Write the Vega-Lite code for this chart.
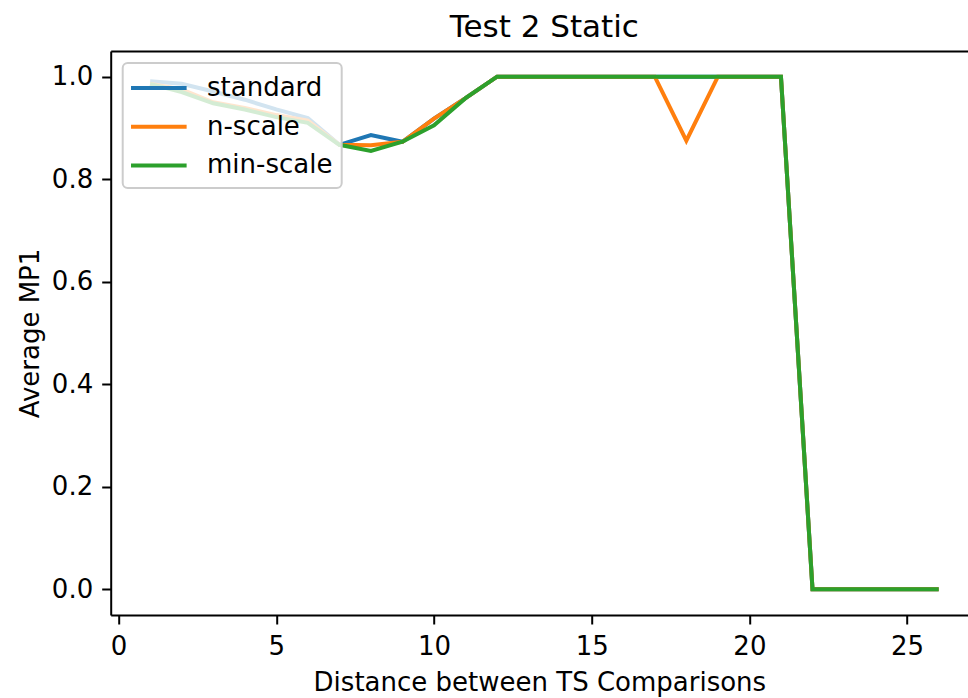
{
  "$schema": "https://vega.github.io/schema/vega-lite/v6.json",
  "width": 857.3,
  "height": 564,
  "autosize": {"type": "none"},
  "padding": {"left": 110.7, "top": 51, "right": 0, "bottom": 83},
  "background": "white",
  "title": {"text": "Test 2 Static", "fontSize": 31, "font": "DejaVu Sans", "fontWeight": "normal", "color": "black", "anchor": "middle", "dx": 5, "offset": 7},
  "config": {
    "view": {"stroke": null},
    "axis": {
      "labelFont": "DejaVu Sans", "labelFontSize": 26, "labelColor": "black",
      "titleFont": "DejaVu Sans", "titleFontSize": 26, "titleFontWeight": "normal", "titleColor": "black",
      "domainColor": "black", "domainWidth": 2, "tickColor": "black", "tickWidth": 2, "tickSize": 9,
      "labelPadding": 9, "grid": false
    },
    "legend": {
      "orient": "top-left", "offset": 12, "title": null,
      "labelFont": "DejaVu Sans", "labelFontSize": 26, "labelColor": "black",
      "symbolType": "M-1.2,0H2.8", "symbolSize": 773, "symbolStrokeWidth": 4,
      "labelOffset": 43.3, "rowPadding": 9.7, "padding": 9,
      "fillColor": "rgba(255,255,255,0.8)", "strokeColor": "#cccccc", "strokeWidth": 2, "cornerRadius": 5
    }
  },
  "data": {"values": [
    {"distance": 1, "mp1": 0.991, "method": "standard"},
    {"distance": 2, "mp1": 0.986, "method": "standard"},
    {"distance": 3, "mp1": 0.971, "method": "standard"},
    {"distance": 4, "mp1": 0.955, "method": "standard"},
    {"distance": 5, "mp1": 0.936, "method": "standard"},
    {"distance": 6, "mp1": 0.919, "method": "standard"},
    {"distance": 7, "mp1": 0.867, "method": "standard"},
    {"distance": 8, "mp1": 0.886, "method": "standard"},
    {"distance": 9, "mp1": 0.873, "method": "standard"},
    {"distance": 10, "mp1": 0.918, "method": "standard"},
    {"distance": 11, "mp1": 0.958, "method": "standard"},
    {"distance": 12, "mp1": 1.0, "method": "standard"},
    {"distance": 13, "mp1": 1.0, "method": "standard"},
    {"distance": 14, "mp1": 1.0, "method": "standard"},
    {"distance": 15, "mp1": 1.0, "method": "standard"},
    {"distance": 16, "mp1": 1.0, "method": "standard"},
    {"distance": 17, "mp1": 1.0, "method": "standard"},
    {"distance": 18, "mp1": 1.0, "method": "standard"},
    {"distance": 19, "mp1": 1.0, "method": "standard"},
    {"distance": 20, "mp1": 1.0, "method": "standard"},
    {"distance": 21, "mp1": 1.0, "method": "standard"},
    {"distance": 22, "mp1": 0.0, "method": "standard"},
    {"distance": 23, "mp1": 0.0, "method": "standard"},
    {"distance": 24, "mp1": 0.0, "method": "standard"},
    {"distance": 25, "mp1": 0.0, "method": "standard"},
    {"distance": 26, "mp1": 0.0, "method": "standard"},
    {"distance": 1, "mp1": 0.986, "method": "n-scale"},
    {"distance": 2, "mp1": 0.975, "method": "n-scale"},
    {"distance": 3, "mp1": 0.950, "method": "n-scale"},
    {"distance": 4, "mp1": 0.939, "method": "n-scale"},
    {"distance": 5, "mp1": 0.925, "method": "n-scale"},
    {"distance": 6, "mp1": 0.914, "method": "n-scale"},
    {"distance": 7, "mp1": 0.867, "method": "n-scale"},
    {"distance": 8, "mp1": 0.866, "method": "n-scale"},
    {"distance": 9, "mp1": 0.873, "method": "n-scale"},
    {"distance": 10, "mp1": 0.918, "method": "n-scale"},
    {"distance": 11, "mp1": 0.958, "method": "n-scale"},
    {"distance": 12, "mp1": 1.0, "method": "n-scale"},
    {"distance": 13, "mp1": 1.0, "method": "n-scale"},
    {"distance": 14, "mp1": 1.0, "method": "n-scale"},
    {"distance": 15, "mp1": 1.0, "method": "n-scale"},
    {"distance": 16, "mp1": 1.0, "method": "n-scale"},
    {"distance": 17, "mp1": 1.0, "method": "n-scale"},
    {"distance": 18, "mp1": 0.875, "method": "n-scale"},
    {"distance": 19, "mp1": 1.0, "method": "n-scale"},
    {"distance": 20, "mp1": 1.0, "method": "n-scale"},
    {"distance": 21, "mp1": 1.0, "method": "n-scale"},
    {"distance": 22, "mp1": 0.0, "method": "n-scale"},
    {"distance": 23, "mp1": 0.0, "method": "n-scale"},
    {"distance": 24, "mp1": 0.0, "method": "n-scale"},
    {"distance": 25, "mp1": 0.0, "method": "n-scale"},
    {"distance": 26, "mp1": 0.0, "method": "n-scale"},
    {"distance": 1, "mp1": 0.986, "method": "min-scale"},
    {"distance": 2, "mp1": 0.970, "method": "min-scale"},
    {"distance": 3, "mp1": 0.948, "method": "min-scale"},
    {"distance": 4, "mp1": 0.936, "method": "min-scale"},
    {"distance": 5, "mp1": 0.921, "method": "min-scale"},
    {"distance": 6, "mp1": 0.910, "method": "min-scale"},
    {"distance": 7, "mp1": 0.867, "method": "min-scale"},
    {"distance": 8, "mp1": 0.855, "method": "min-scale"},
    {"distance": 9, "mp1": 0.873, "method": "min-scale"},
    {"distance": 10, "mp1": 0.905, "method": "min-scale"},
    {"distance": 11, "mp1": 0.958, "method": "min-scale"},
    {"distance": 12, "mp1": 1.0, "method": "min-scale"},
    {"distance": 13, "mp1": 1.0, "method": "min-scale"},
    {"distance": 14, "mp1": 1.0, "method": "min-scale"},
    {"distance": 15, "mp1": 1.0, "method": "min-scale"},
    {"distance": 16, "mp1": 1.0, "method": "min-scale"},
    {"distance": 17, "mp1": 1.0, "method": "min-scale"},
    {"distance": 18, "mp1": 1.0, "method": "min-scale"},
    {"distance": 19, "mp1": 1.0, "method": "min-scale"},
    {"distance": 20, "mp1": 1.0, "method": "min-scale"},
    {"distance": 21, "mp1": 1.0, "method": "min-scale"},
    {"distance": 22, "mp1": 0.0, "method": "min-scale"},
    {"distance": 23, "mp1": 0.0, "method": "min-scale"},
    {"distance": 24, "mp1": 0.0, "method": "min-scale"},
    {"distance": 25, "mp1": 0.0, "method": "min-scale"},
    {"distance": 26, "mp1": 0.0, "method": "min-scale"}
  ]},
  "layer": [
    {
      "mark": {"type": "line", "strokeWidth": 4, "strokeJoin": "miter", "clip": true},
      "encoding": {
        "x": {"field": "distance", "type": "quantitative",
              "scale": {"domain": [-0.25, 26.93], "nice": false, "zero": false},
              "axis": {"values": [0, 5, 10, 15, 20, 25], "title": "Distance between TS Comparisons", "titlePadding": 10}},
        "y": {"field": "mp1", "type": "quantitative",
              "scale": {"domain": [-0.05, 1.05], "nice": false, "zero": false},
              "axis": {"values": [0, 0.2, 0.4, 0.6, 0.8, 1.0], "format": ".1f", "title": "Average MP1", "titlePadding": 8}},
        "color": {"field": "method", "type": "nominal", "sort": ["standard", "n-scale", "min-scale"],
                  "scale": {"domain": ["standard", "n-scale", "min-scale"], "range": ["#1f77b4", "#ff7f0e", "#2ca02c"]}}
      }
    },
    {
      "mark": {"type": "line", "opacity": 0},
      "encoding": {
        "x": {"field": "distance", "type": "quantitative",
              "scale": {"domain": [-0.25, 26.93], "nice": false, "zero": false},
              "axis": {"orient": "top", "labels": false, "ticks": false, "title": null, "domain": true}},
        "y": {"field": "mp1", "type": "quantitative"},
        "detail": {"field": "method", "type": "nominal"}
      }
    }
  ],
  "resolve": {"axis": {"x": "independent"}}
}
